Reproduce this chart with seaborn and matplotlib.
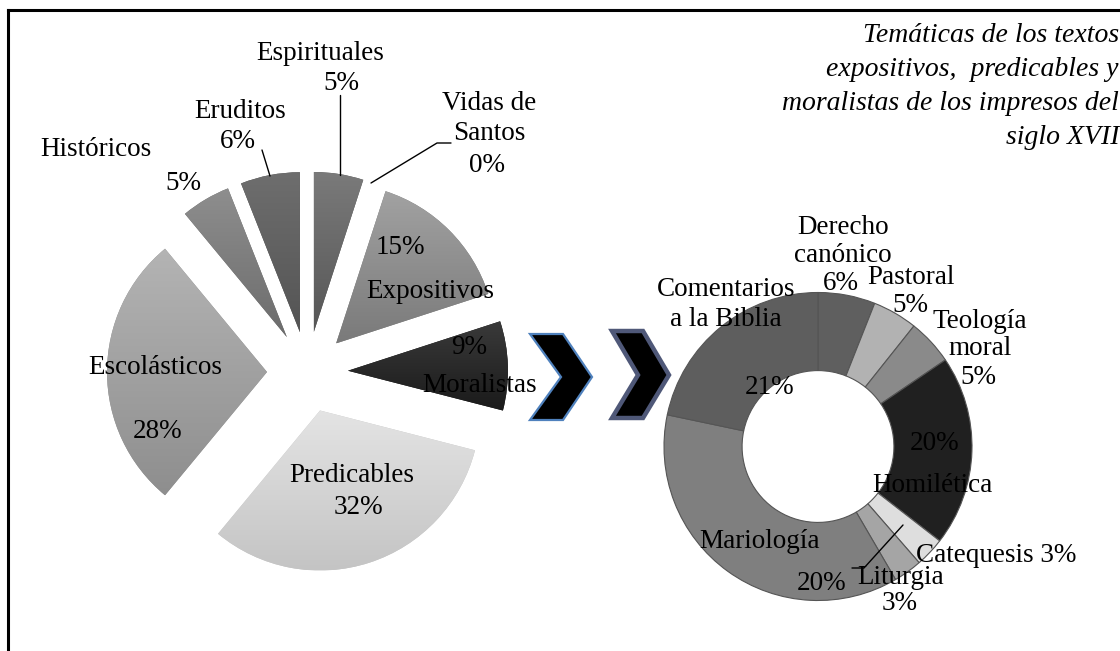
import numpy as np
import matplotlib
matplotlib.use("Agg")
import matplotlib.pyplot as plt
from matplotlib.colors import LinearSegmentedColormap
from matplotlib.patches import Polygon
import seaborn as sns

# LEFT PIE - subject of the printed texts
left_names = ['Espirituales', 'Vidas de\nSantos', 'Expositivos', 'Moralistas',
              'Predicables', 'Escolásticos', 'Históricos', 'Eruditos']
left_values = [5, 0, 15, 9, 32, 28, 5, 6]
left_pct = ['5%', '0%', '15%', '9%', '32%', '28%', '5%', '6%']

# RIGHT DONUT - detail of expositivos, predicables y moralistas
right_names = ['Derecho\ncanónico', 'Pastoral', 'Teología\nmoral', 'Homilética',
               'Catequesis', 'Liturgia', 'Mariología', 'Comentarios\na la Biblia']
right_values = [6, 4.7, 4.8, 20, 3.1, 3, 36.7, 21.7]
right_pct = ['6%', '5%', '5%', '20%', '3%', '3%', '20%', '21%']

title_lines = ['Temáticas de los textos', 'expositivos,  predicables y',
               'moralistas de los impresos del', 'siglo XVII']

# styles
left_grad = [('#7a7a7a', '#565656'), ('#777777', '#555555'), ('#a2a2a2', '#7a7a7a'),
             ('#3a3a3a', '#1a1a1a'), ('#e4e4e4', '#c4c4c4'), ('#b4b4b4', '#8e8e8e'),
             ('#8e8e8e', '#6c6c6c'), ('#6e6e6e', '#545454')]
donut_colors = ['#5f5f5f', '#b2b2b2', '#8a8a8a', '#202020',
                '#dedede', '#a5a5a5', '#7f7f7f', '#5e5e5e']

# label positions in pixels (x, y from top) and line step of multi-line names
left_name_xy = [(320, 53), (489, 119), (430, 291), (480, 385),
                (352, 476), (155, 368), (96, 149), (240, 111)]
left_pct_xy = [(341, 83), (487, 166), (400, 248), (469, 347),
               (358, 507), (158, 431), (183, 184), (238, 141)]
right_name_xy = [(843, 241.5), (911, 277), (980, 335), (932, 486),
                 (996, 556), (901, 578), (760, 541), (726, 304)]
right_pct_xy = [(841, 284), (910, 305), (978, 378), (935, 444),
                None, (900, 604), (822, 583), (770, 388)]
right_step = [27.5, 0, 27, 0, 0, 0, 0, 30]

W, H = 1120, 651
sns.set_theme(style='white')
plt.rcParams['font.family'] = ['Liberation Serif', 'DejaVu Serif']
FS = 19.5

fig = plt.figure(figsize=(W / 100, H / 100), dpi=100)
fig.patch.set_facecolor('white')


def px_axes(cx, cy, half):
    # square axes centred on pixel (cx, cy)
    return fig.add_axes([(cx - half) / W, (H - cy - half) / H, 2 * half / W, 2 * half / H])


# left exploded pie
R1 = 160
ax1 = px_axes(307.5, 372, 1.4 * R1)
wedges, _ = ax1.pie(left_values, startangle=90, counterclock=False,
                    explode=[0.253] * len(left_values), radius=1,
                    colors=[g[1] for g in left_grad], wedgeprops=dict(linewidth=0))
for w, (ctop, cbot) in zip(wedges, left_grad):
    ext = w.get_path().get_extents()
    if ext.width <= 0 or ext.height <= 0:
        continue
    cm = LinearSegmentedColormap.from_list('g', [ctop, cbot])
    grad = np.linspace(0, 1, 256).reshape(-1, 1)
    im = ax1.imshow(grad, cmap=cm, extent=(ext.x0, ext.x1, ext.y0, ext.y1),
                    origin='upper', aspect='auto', interpolation='bilinear', zorder=2)
    im.set_clip_path(w)
ax1.set_xlim(-1.4, 1.4)
ax1.set_ylim(-1.4, 1.4)
ax1.set_aspect('equal')
ax1.axis('off')

# right donut
R2 = 154
ax2 = px_axes(818, 446.5, 1.25 * R2)
ax2.pie(right_values, startangle=90, counterclock=False, radius=1, colors=donut_colors,
        wedgeprops=dict(width=0.507, edgecolor='#555555', linewidth=0.8))
ax2.set_xlim(-1.25, 1.25)
ax2.set_ylim(-1.25, 1.25)
ax2.axis('off')

# overlay in pixel coordinates for labels, leaders, arrows, frame
ax0 = fig.add_axes([0, 0, 1, 1])
ax0.set_xlim(0, W)
ax0.set_ylim(H, 0)
ax0.axis('off')
ax0.patch.set_alpha(0)
ax0.set_zorder(5)

# chevrons
ch1 = [(530, 334), (563, 334), (592, 377), (563, 420), (530, 420), (561, 377)]
ch2 = [(612, 331), (643, 331), (669, 375), (643, 418), (612, 418), (638, 375)]
ax0.add_patch(Polygon(ch1, closed=True, facecolor='black', edgecolor='#4f81bd', linewidth=1.6))
ax0.add_patch(Polygon(ch2, closed=True, facecolor='black', edgecolor='#4f5878', linewidth=3.2))

# leader lines
lc = dict(color='black', linewidth=1.0)
ax0.plot([340, 340], [95, 175], **lc)
ax0.plot([262, 270], [150, 176], **lc)
ax0.plot([371, 437, 451], [183, 143, 143], **lc)
ax0.plot([903, 864, 852], [525, 568, 568], **lc)


def put(s, xy, step=30):
    # one text per line so the line step is exact
    lines = s.split('\n')
    n = len(lines)
    for i, ln in enumerate(lines):
        ax0.text(xy[0], xy[1] + (i - (n - 1) / 2) * step, ln, ha='center', va='center',
                 fontsize=FS, color='black')


for name, pct, nxy, pxy in zip(left_names, left_pct, left_name_xy, left_pct_xy):
    put(name, nxy, 30)
    put(pct, pxy)

for name, pct, nxy, pxy, st in zip(right_names, right_pct, right_name_xy, right_pct_xy, right_step):
    if pxy is None:
        put(name + ' ' + pct, nxy)
    else:
        put(name, nxy, st)
        put(pct, pxy)

# title, right aligned and italic
for i, line in enumerate(title_lines):
    ax0.text(1119, 35 + 34 * i, line, ha='right', va='center', fontsize=20,
             style='italic', color='black')

# frame (left and top only visible)
ax0.plot([8, 8], [10, H], color='black', linewidth=2.2, solid_capstyle='projecting')
ax0.plot([8, W], [10, 10], color='black', linewidth=2.2, solid_capstyle='projecting')

fig.savefig('out.png', dpi=100, facecolor='white')
